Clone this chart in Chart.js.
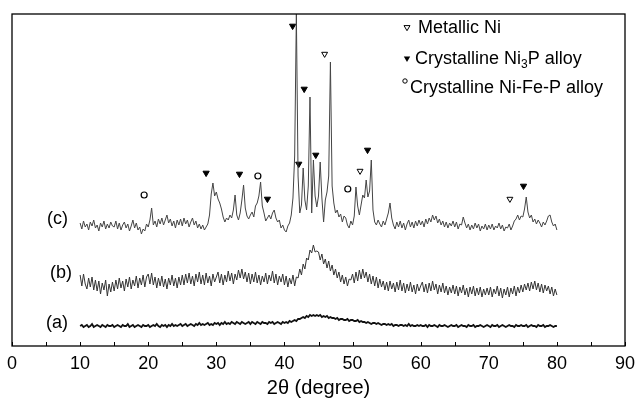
<!DOCTYPE html>
<html>
<head>
<meta charset="utf-8">
<script src="https://cdn.jsdelivr.net/npm/chart.js@4.4.0/dist/chart.umd.min.js"></script>
<style>
  html, body { margin: 0; padding: 0; background: #fff; }
  #xrd { display: block; }
</style>
</head>
<body>
<canvas id="xrd" width="635" height="400"></canvas>
<script>
// XRD patterns (a), (b), (c) — intensity in arbitrary units, curves already offset.
// Sampled from 10° to 80° every 0.25°, one line = 5°.
const ANGLE_START = 10;
const ANGLE_STEP = 0.25;

const curveA = [
    20,21,19,20,21,19,20,22,19,20, 21,20,19,21,20,19,21,20,20,21,
    19,20,21,20,19,21,20,20,22,19, 20,21,19,20,21,20,19,21,20,20,
    21,19,20,21,20,22,20,19,21,20, 21,19,21,20,22,20,21,20,21,22,
    20,21,22,20,21,22,21,20,22,21, 23,21,22,21,22,23,21,22,21,23,
    22,23,21,23,22,24,22,23,22,24, 23,22,24,23,22,24,23,22,23,24,
    22,24,23,22,24,23,22,24,23,23, 22,24,23,24,22,23,24,23,22,24,
    23,24,23,25,24,25,26,25,27,27, 28,29,28,30,29,31,30,31,30,31,
    30,31,29,30,29,30,28,29,28,28, 27,28,26,27,27,26,26,27,25,26,
    26,25,25,26,24,25,24,24,23,24, 23,22,23,23,22,23,22,21,22,22,
    21,22,21,22,20,21,21,20,21,21, 20,21,20,22,20,21,20,20,21,20,
    21,20,20,21,19,21,20,20,21,20, 19,21,20,20,21,20,19,20,21,20,
    20,21,19,20,21,20,20,19,21,20, 20,21,19,20,20,21,20,19,20,21,
    20,19,21,20,20,21,19,20,21,20, 19,20,21,20,20,19,21,20,20,21,
    20,20,21,19,20,21,20,20,19,21, 20,20,21,19,20,20,21,20,19,20,
    20
];

const curveB = [
    71,60,72,62,57,68,59,69,56,66, 55,65,52,63,56,66,50,62,54,64,
    55,66,57,68,58,65,55,67,59,69, 57,66,60,70,58,68,61,71,59,69,
    72,62,73,61,69,58,68,60,70,59, 67,57,68,61,71,60,68,58,69,61,
    71,61,72,63,73,62,70,60,72,64, 74,62,71,61,73,63,70,60,72,64,
    69,74,63,72,61,71,64,75,65,73, 62,72,66,76,68,77,67,74,64,73,
    62,72,64,74,63,71,61,70,64,73, 62,71,65,75,63,72,61,70,64,72,
    61,70,59,68,62,71,60,69,68,77, 71,82,77,88,86,96,93,101,94,95,
    94,86,92,82,87,78,85,75,81,71, 77,68,74,64,71,62,69,60,67,66,
    72,63,74,65,76,67,77,68,74,64, 72,62,70,60,69,58,67,59,65,56,
    64,55,65,57,63,54,64,56,66,55, 63,53,62,55,64,54,61,52,62,55,
    60,64,54,62,53,63,55,65,56,62, 52,61,54,63,53,60,51,59,53,61,
    52,60,50,59,53,61,51,58,49,59, 52,60,50,58,51,59,49,57,51,58,
    51,59,49,57,52,60,50,58,48,57, 51,59,49,58,52,60,50,59,53,61,
    54,62,56,63,55,64,57,65,56,63, 54,62,53,61,55,60,52,59,50,57,
    51
];

const curveC = [
    123,117,125,119,122,116,124,120,126,118, 121,115,123,119,125,117,122,118,124,120,
    119,125,117,123,116,121,124,118,122,115, 120,126,118,123,116,119,112,117,115,122,
    119,126,138,121,125,119,127,122,128,121, 126,131,123,127,120,125,118,126,121,127,
    120,128,122,126,119,124,128,121,125,118, 122,117,121,116,119,122,131,152,163,150,
    154,147,143,137,129,124,128,126,131,128, 136,151,131,126,133,146,161,138,130,127,
    131,134,129,140,143,150,164,140,133,125, 128,131,127,133,136,128,124,126,118,121,
    116,114,120,123,131,148,190,332,170,133, 141,178,146,136,160,249,133,186,150,139,
    150,184,148,124,146,154,170,284,160,143, 133,136,129,132,124,130,128,121,118,125,
    121,130,159,140,131,141,151,148,166,149, 155,186,136,124,121,126,122,119,125,121,
    127,133,143,128,121,117,124,119,125,118, 123,116,122,126,119,124,118,125,120,126,
    121,125,119,127,122,128,124,131,126,130, 123,127,121,125,119,124,118,123,120,125,
    119,124,117,122,121,129,123,118,122,116, 121,117,123,118,122,115,120,117,122,116,
    121,117,122,116,120,118,123,117,121,115, 119,118,122,116,120,125,127,131,126,130,
    129,137,149,134,128,131,124,127,122,126, 123,119,124,121,125,130,131,124,120,122,
    116
];

// Phase markers on pattern (c): [2θ, height]
const ni3pMarks = [[28.5, 173], [33.4, 172], [37.5, 147], [41.2, 320], [42.1, 182],
                   [42.9, 257], [44.6, 191], [52.2, 196], [75.1, 160]];
const niMarks = [[45.9, 292], [51.1, 175], [73.1, 147]];
const niFePMarks = [[19.4, 151], [36.1, 170], [49.3, 157]];

const xTicksMajor = [0, 10, 20, 30, 40, 50, 60, 70, 80, 90];
const curveLabels = [['(c)', 127], ['(b)', 73], ['(a)', 23]];

const FONT = '"Liberation Sans", Arial, Helvetica, sans-serif';

function aPuntos(valores) {
    return valores.map((v, i) => ({ x: ANGLE_START + i * ANGLE_STEP, y: v }));
}
function marcas(lista) {
    return lista.map(([x, y]) => ({ x, y }));
}

function trianguloAbajo(ctx, x, y, r, relleno) {
    ctx.beginPath();
    ctx.moveTo(x - r, y - r * 0.8);
    ctx.lineTo(x + r, y - r * 0.8);
    ctx.lineTo(x, y + r * 0.9);
    ctx.closePath();
    if (relleno) { ctx.fillStyle = '#000'; ctx.fill(); }
    else { ctx.fillStyle = '#fff'; ctx.fill(); ctx.strokeStyle = '#000'; ctx.lineWidth = 1; ctx.stroke(); }
}

// Marco, ticks hacia dentro, etiquetas (a)(b)(c) y la leyenda con subíndice
const decoracion = {
    id: 'decoracion',
    afterDraw(chart) {
        const { ctx, chartArea: a, scales } = chart;
        const x = scales.x, y = scales.y;
        ctx.save();
        ctx.strokeStyle = '#000';
        ctx.lineWidth = 1.3;
        ctx.strokeRect(a.left, a.top, a.right - a.left, a.bottom - a.top);

        ctx.lineWidth = 1;
        for (let v = 0; v <= 90; v += 5) {
            const px = Math.round(x.getPixelForValue(v)) + 0.5;
            ctx.beginPath();
            ctx.moveTo(px, a.bottom);
            ctx.lineTo(px, a.bottom - 4);
            ctx.stroke();
        }

        ctx.fillStyle = '#000';
        ctx.font = '18px ' + FONT;
        ctx.textAlign = 'right';
        ctx.textBaseline = 'middle';
        curveLabels.forEach(([txt, nivel], i) => {
            const px = x.getPixelForValue(ANGLE_START) - (i === 1 ? 8 : 12);
            ctx.fillText(txt, px, y.getPixelForValue(nivel));
        });

        // leyenda
        ctx.textAlign = 'left';
        trianguloAbajo(ctx, 407, 28, 3, false);
        ctx.fillStyle = '#000';
        ctx.fillText('Metallic Ni', 418, 28);

        trianguloAbajo(ctx, 407, 59, 3.2, true);
        ctx.fillStyle = '#000';
        let cx = 415;
        ctx.fillText('Crystalline Ni', cx, 59);
        cx += ctx.measureText('Crystalline Ni').width;
        ctx.font = '12px ' + FONT;
        ctx.fillText('3', cx, 65);
        cx += ctx.measureText('3').width;
        ctx.font = '18px ' + FONT;
        ctx.fillText('P alloy', cx, 59);

        ctx.beginPath();
        ctx.arc(405, 81, 2.2, 0, Math.PI * 2);
        ctx.strokeStyle = '#000';
        ctx.lineWidth = 1;
        ctx.stroke();
        ctx.fillText('Crystalline Ni-Fe-P alloy', 410, 88);
        ctx.restore();
    }
};

const lineaBase = { showLine: true, pointRadius: 0, borderWidth: 1, tension: 0, fill: false };

new Chart(document.getElementById('xrd').getContext('2d'), {
    type: 'scatter',
    data: {
        datasets: [
            { ...lineaBase, label: '(a)', data: aPuntos(curveA), borderColor: '#111', borderWidth: 1.8 },
            { ...lineaBase, label: '(b)', data: aPuntos(curveB), borderColor: '#333' },
            { ...lineaBase, label: '(c)', data: aPuntos(curveC), borderColor: '#444' },
            {
                label: 'Crystalline Ni3P alloy', data: marcas(ni3pMarks),
                pointStyle: 'triangle', rotation: 180, pointRadius: 3.6,
                backgroundColor: '#000', borderColor: '#000', borderWidth: 1,
            },
            {
                label: 'Metallic Ni', data: marcas(niMarks),
                pointStyle: 'triangle', rotation: 180, pointRadius: 3.4,
                backgroundColor: '#fff', borderColor: '#000', borderWidth: 1,
            },
            {
                label: 'Crystalline Ni-Fe-P alloy', data: marcas(niFePMarks),
                pointStyle: 'circle', pointRadius: 3,
                backgroundColor: '#fff', borderColor: '#000', borderWidth: 1.2,
            },
        ],
    },
    options: {
        responsive: false,
        animation: false,
        layout: { padding: { left: 12, right: 10, top: 14, bottom: 0 } },
        plugins: { legend: { display: false }, tooltip: { enabled: false } },
        scales: {
            x: {
                type: 'linear',
                min: 0,
                max: 90,
                afterBuildTicks: (s) => { s.ticks = xTicksMajor.map(v => ({ value: v })); },
                afterFit: (s) => { s.height = 54; s.paddingLeft = 0; s.paddingRight = 0; },
                grid: { display: false, drawTicks: false },
                border: { display: false },
                ticks: { color: '#000', font: { family: FONT, size: 18 }, padding: 7, maxRotation: 0 },
                title: {
                    display: true, text: '2θ (degree)', color: '#000',
                    font: { family: FONT, size: 20 }, padding: { top: 0, bottom: 0 },
                },
            },
            y: { display: false, min: 0, max: 332 },
        },
    },
    plugins: [decoracion],
});
</script>
</body>
</html>
